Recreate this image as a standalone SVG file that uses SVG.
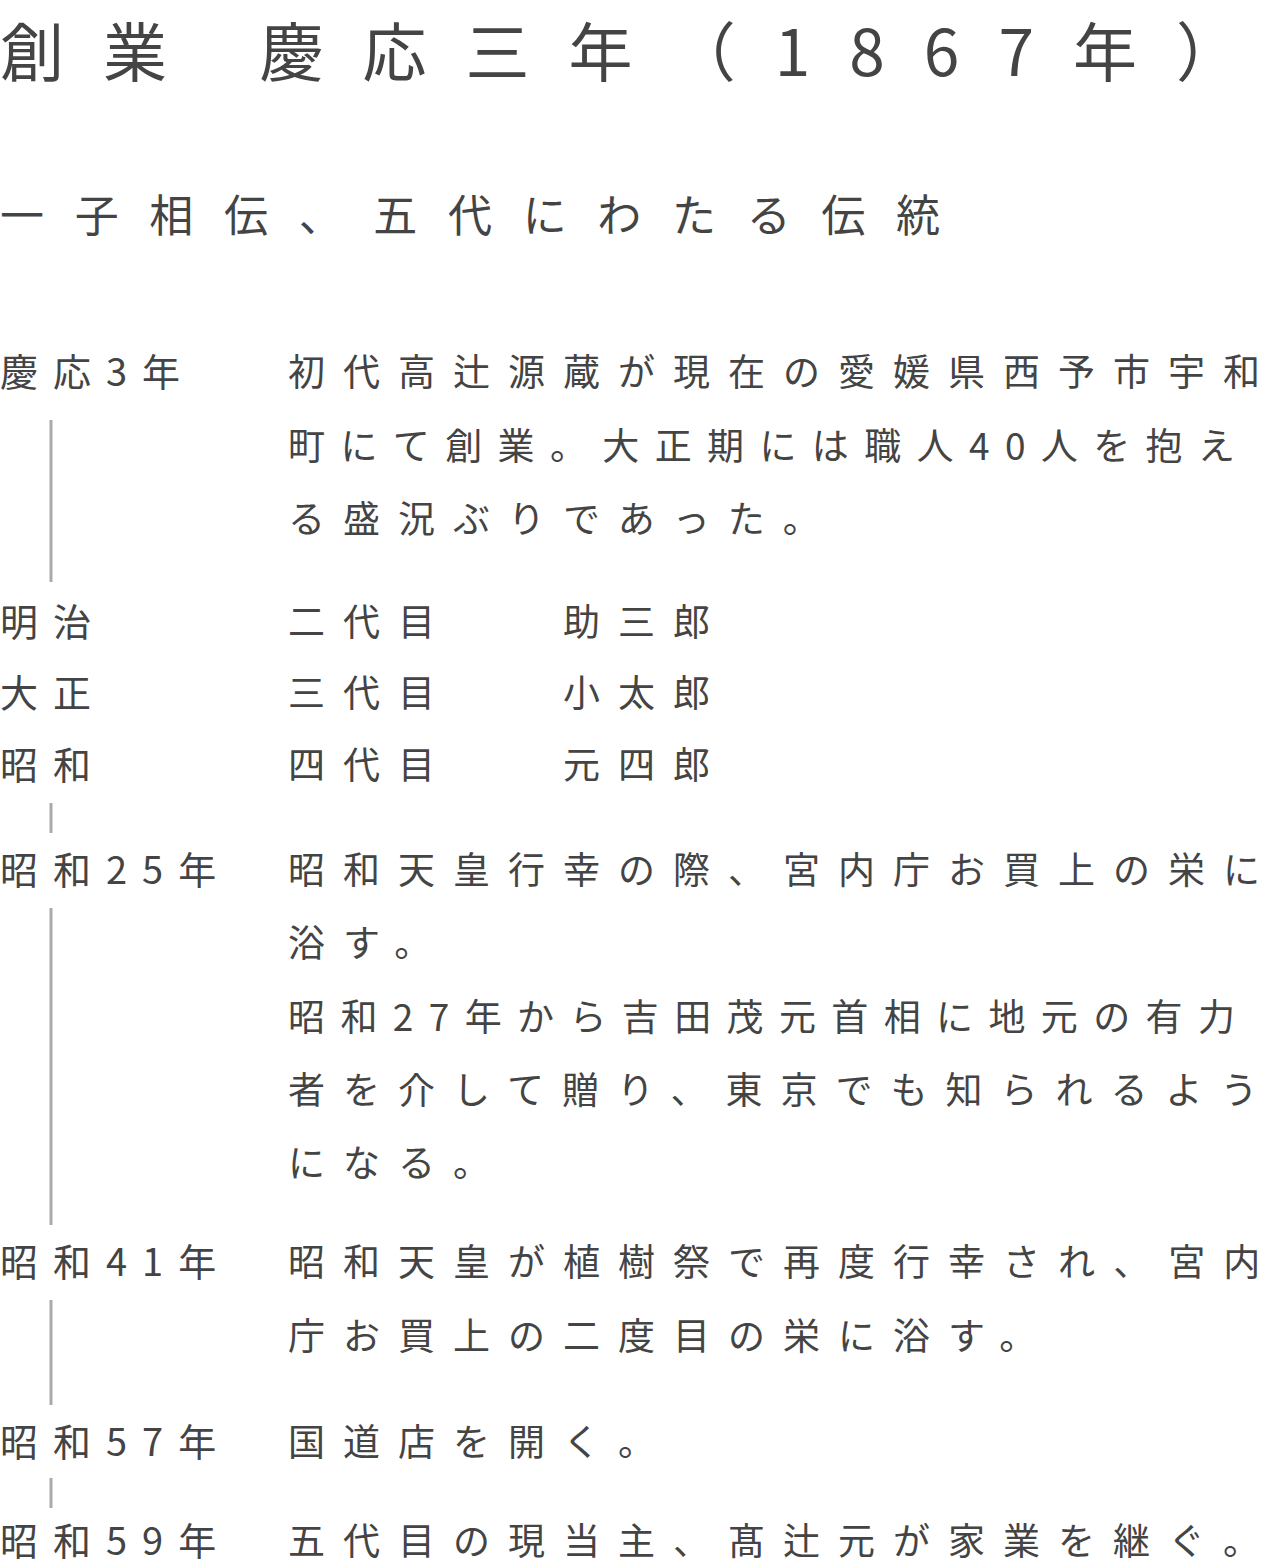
<svg xmlns="http://www.w3.org/2000/svg" width="1278" height="1563" viewBox="0 0 1278 1563">
<style>
text{font-family:"Noto Sans CJK JP","Noto Sans",sans-serif;fill:#444}
.t{font-size:64px}
.s{font-size:44px}
.l{font-size:38px;letter-spacing:15px}
.b{font-size:37px;letter-spacing:18px}
.v{stroke:#aaa;stroke-width:3}
</style>
<rect width="1278" height="1563" fill="#fff"/>
<g id="title"><text class="t" x="0" y="76" textLength="1240" lengthAdjust="spacing">創業 慶応三年（1867年）</text></g>
<g id="subtitle"><text class="s" x="0" y="232" textLength="940" lengthAdjust="spacing">一子相伝、五代にわたる伝統</text></g>
<g id="connectors">
<line class="v" x1="51" y1="420" x2="51" y2="582"/>
<line class="v" x1="51" y1="803" x2="51" y2="833"/>
<line class="v" x1="51" y1="908" x2="51" y2="1225"/>
<line class="v" x1="51" y1="1300" x2="51" y2="1405"/>
<line class="v" x1="51" y1="1478" x2="51" y2="1508"/>
</g>
<g id="n1"><text class="l" x="0" y="386">慶応3年</text>
<text class="b" x="288" y="386">初代高辻源蔵が現在の愛媛県西予市宇和</text>
<text class="b" x="288" y="460" textLength="965" lengthAdjust="spacing">町にて創業。大正期には職人40人を抱え</text>
<text class="b" x="288" y="533">る盛況ぶりであった。</text></g>
<g id="n2"><text class="l" x="0" y="636">明治</text><text class="b" x="288" y="636">二代目</text><text class="b" x="563" y="636">助三郎</text></g>
<g id="n3"><text class="l" x="0" y="707">大正</text><text class="b" x="288" y="707">三代目</text><text class="b" x="563" y="707">小太郎</text></g>
<g id="n4"><text class="l" x="0" y="779">昭和</text><text class="b" x="288" y="779">四代目</text><text class="b" x="563" y="779">元四郎</text></g>
<g id="n5"><text class="l" x="0" y="884">昭和25年</text>
<text class="b" x="288" y="884">昭和天皇行幸の際、宮内庁お買上の栄に</text>
<text class="b" x="288" y="957">浴す。</text>
<text class="b" x="288" y="1031" textLength="965" lengthAdjust="spacing">昭和27年から吉田茂元首相に地元の有力</text>
<text class="b" x="288" y="1104">者を介して贈り、東京でも知られるよう</text>
<text class="b" x="288" y="1177">になる。</text></g>
<g id="n6"><text class="l" x="0" y="1276">昭和41年</text>
<text class="b" x="288" y="1276">昭和天皇が植樹祭で再度行幸され、宮内</text>
<text class="b" x="288" y="1350">庁お買上の二度目の栄に浴す。</text></g>
<g id="n7"><text class="l" x="0" y="1456">昭和57年</text><text class="b" x="288" y="1456">国道店を開く。</text></g>
<g id="n8"><text class="l" x="0" y="1555">昭和59年</text><text class="b" x="288" y="1555">五代目の現当主、髙辻元が家業を継ぐ。</text></g>
</svg>
